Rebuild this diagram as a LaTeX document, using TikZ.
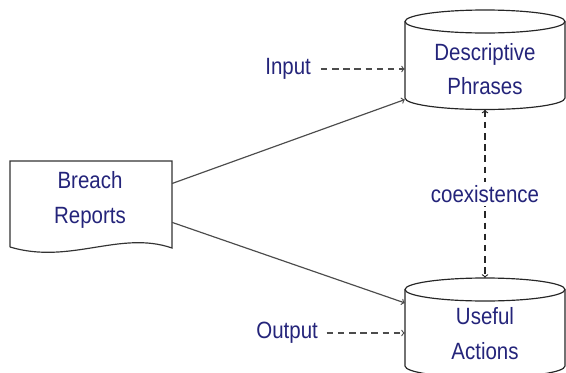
\documentclass[tikz,border=0pt]{standalone}
\usepackage{fontspec}
\setmainfont{Liberation Sans}[FakeStretch=0.87]
\definecolor{labelblue}{RGB}{36,36,122}
\tikzset{
  every node/.style={text=labelblue, font=\fontsize{20}{29.5}\selectfont},
  store/.style={align=center, minimum width=136pt, inner sep=0pt},
  drum/.style={draw=black!85, line width=1pt},
  dashes/.style={dash pattern=on 5.5pt off 4pt}
}
\begin{document}
\begin{tikzpicture}[x=0.85pt,y=-0.85pt]
            \useasboundingbox (0,0) rectangle (566,373);
            % the report sheet with its wavy lower edge
            \draw[black!80, line width=1pt] (10,247) -- (10,161) -- (172,161) -- (172,248)
                .. controls (120,230) and (70,265) .. (10,247);
            \node[align=center] (report) at (90,200) {Breach\\Reports};
            % the two drums
            \foreach \cy in {21.5,289.5} {
                \draw[drum] (485,\cy) ellipse [x radius=80, y radius=11.5];
                \draw[drum] (405,\cy) -- ++(0,76.5)
                    arc [start angle=180, end angle=0, x radius=80, y radius=11.5] -- ++(0,-76.5);
            }
            \node[store, minimum height=68.9pt] (phrases) at (485,69) {Descriptive\\Phrases};
            \node[store, minimum height=94.35pt] (actions) at (485,333.5) {Useful\\Actions};
            \node[anchor=east] (input) at (315,69) {Input};
            \node[anchor=east] (output) at (322,333) {Output};
            \begin{scope}[every path/.style={->,line width=1pt,black!70}]
                \path [->] ([yshift=14pt]report.east -| 172,0) edge ([yshift=-26pt]phrases.west);
                \path [->] ([yshift=-19pt]report.east -| 172,0) edge ([yshift=26pt]actions.west);
                \path [->] ([xshift=5pt]input.east) edge [dashes] (input -| phrases.west);
                \path [->] ([xshift=4pt]output.east) edge [dashes] (output -| actions.west);
            \end{scope}
            \draw [<->, dashes, line width=1pt, black!85] (phrases.south) -- node[fill=white, inner sep=3pt] (coex) {coexistence} (actions.north);
        \end{tikzpicture}
\end{document}
